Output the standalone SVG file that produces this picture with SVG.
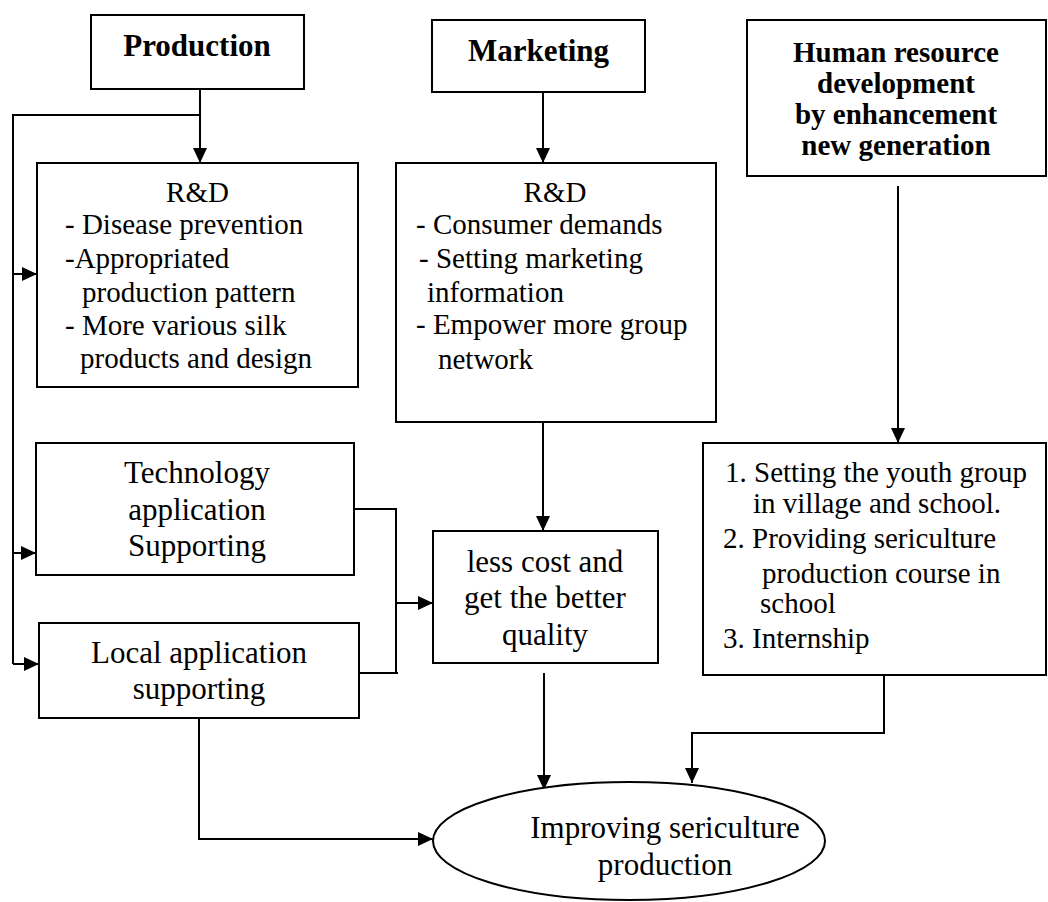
<svg xmlns="http://www.w3.org/2000/svg" width="1048" height="902" viewBox="0 0 1048 902">
<defs>
<marker id="ah" markerUnits="userSpaceOnUse" markerWidth="16" markerHeight="14" refX="15" refY="7" orient="auto">
<path d="M0,0 L15,7 L0,14 z" fill="#000"/>
</marker>
<style>
.box{fill:#fff;stroke:#000;stroke-width:2}
.ln{fill:none;stroke:#000;stroke-width:2}
.arr{fill:none;stroke:#000;stroke-width:2;marker-end:url(#ah)}
text{font-family:"Liberation Serif","Times New Roman",serif;fill:#000}
.b{font-weight:bold;font-size:31px}
.hb{font-weight:bold;font-size:29px}
.r{font-size:29px}
.l{font-size:31px}
.m{text-anchor:middle}
</style>
</defs>
<rect width="1048" height="902" fill="#fff"/>

<g id="connectors">
<line class="arr" x1="200" y1="89" x2="200" y2="163"/>
<polyline class="ln" points="200,115 13,115 13,664"/>
<line class="arr" x1="13" y1="274" x2="37" y2="274"/>
<line class="arr" x1="13" y1="553" x2="36" y2="553"/>
<line class="arr" x1="13" y1="664" x2="39" y2="664"/>
<line class="arr" x1="543" y1="92" x2="543" y2="163"/>
<line class="arr" x1="543" y1="422" x2="543" y2="531"/>
<polyline class="ln" points="354,509 396,509 396,673"/>
<line class="ln" x1="359" y1="673" x2="398" y2="673"/>
<line class="arr" x1="396" y1="603" x2="433" y2="603"/>
<polyline class="arr" points="199,718 199,839 433,839"/>
<line class="arr" x1="544" y1="673" x2="544" y2="790"/>
<line class="arr" x1="898" y1="186" x2="898" y2="443"/>
<polyline class="arr" points="884,675 884,733 692,733 692,783"/>
</g>

<g id="production">
<rect class="box" x="91" y="15" width="213" height="74"/>
<text class="b m" x="197" y="56">Production</text>
</g>

<g id="marketing">
<rect class="box" x="432" y="20" width="213" height="72"/>
<text class="b m" x="538.5" y="61">Marketing</text>
</g>

<g id="hr">
<rect class="box" x="747" y="20" width="299" height="156"/>
<text class="hb m" x="896" y="62">Human resource</text>
<text class="hb m" x="896" y="93">development</text>
<text class="hb m" x="896" y="124">by enhancement</text>
<text class="hb m" x="896" y="155">new generation</text>
</g>

<g id="rd-production">
<rect class="box" x="37" y="163" width="321" height="224"/>
<text class="r m" x="197.5" y="202">R&amp;D</text>
<text class="r" x="65" y="234">- Disease prevention</text>
<text class="r" x="65" y="268">-Appropriated</text>
<text class="r" x="82" y="302">production pattern</text>
<text class="r" x="65" y="335">- More various silk</text>
<text class="r" x="80" y="368">products and design</text>
</g>

<g id="rd-marketing">
<rect class="box" x="396" y="163" width="320" height="259"/>
<text class="r m" x="555" y="202">R&amp;D</text>
<text class="r" x="416" y="234">- Consumer demands</text>
<text class="r" x="419" y="268">- Setting marketing</text>
<text class="r" x="427" y="302">information</text>
<text class="r" x="416" y="334">- Empower more group</text>
<text class="r" x="438" y="369">network</text>
</g>

<g id="technology">
<rect class="box" x="36" y="443" width="318" height="132"/>
<text class="l m" x="197" y="483">Technology</text>
<text class="l m" x="197" y="520">application</text>
<text class="l m" x="197" y="556">Supporting</text>
</g>

<g id="local">
<rect class="box" x="39" y="623" width="320" height="95"/>
<text class="l m" x="199" y="663">Local application</text>
<text class="l m" x="199" y="699">supporting</text>
</g>

<g id="lesscost">
<rect class="box" x="433" y="531" width="225" height="132"/>
<text class="l m" x="545" y="572">less cost and</text>
<text class="l m" x="545" y="608">get the better</text>
<text class="l m" x="545" y="645">quality</text>
</g>

<g id="hr-actions">
<rect class="box" x="703" y="443" width="343" height="232"/>
<text class="r" x="725" y="482">1. Setting the youth group</text>
<text class="r" x="753" y="513">in village and school.</text>
<text class="r" x="723" y="548">2. Providing sericulture</text>
<text class="r" x="762" y="583">production course in</text>
<text class="r" x="760" y="613">school</text>
<text class="r" x="723" y="648">3. Internship</text>
</g>

<g id="improving">
<ellipse class="box" cx="629" cy="841" rx="196" ry="59"/>
<text class="l m" x="665" y="838">Improving sericulture</text>
<text class="l m" x="665" y="875">production</text>
</g>
</svg>
